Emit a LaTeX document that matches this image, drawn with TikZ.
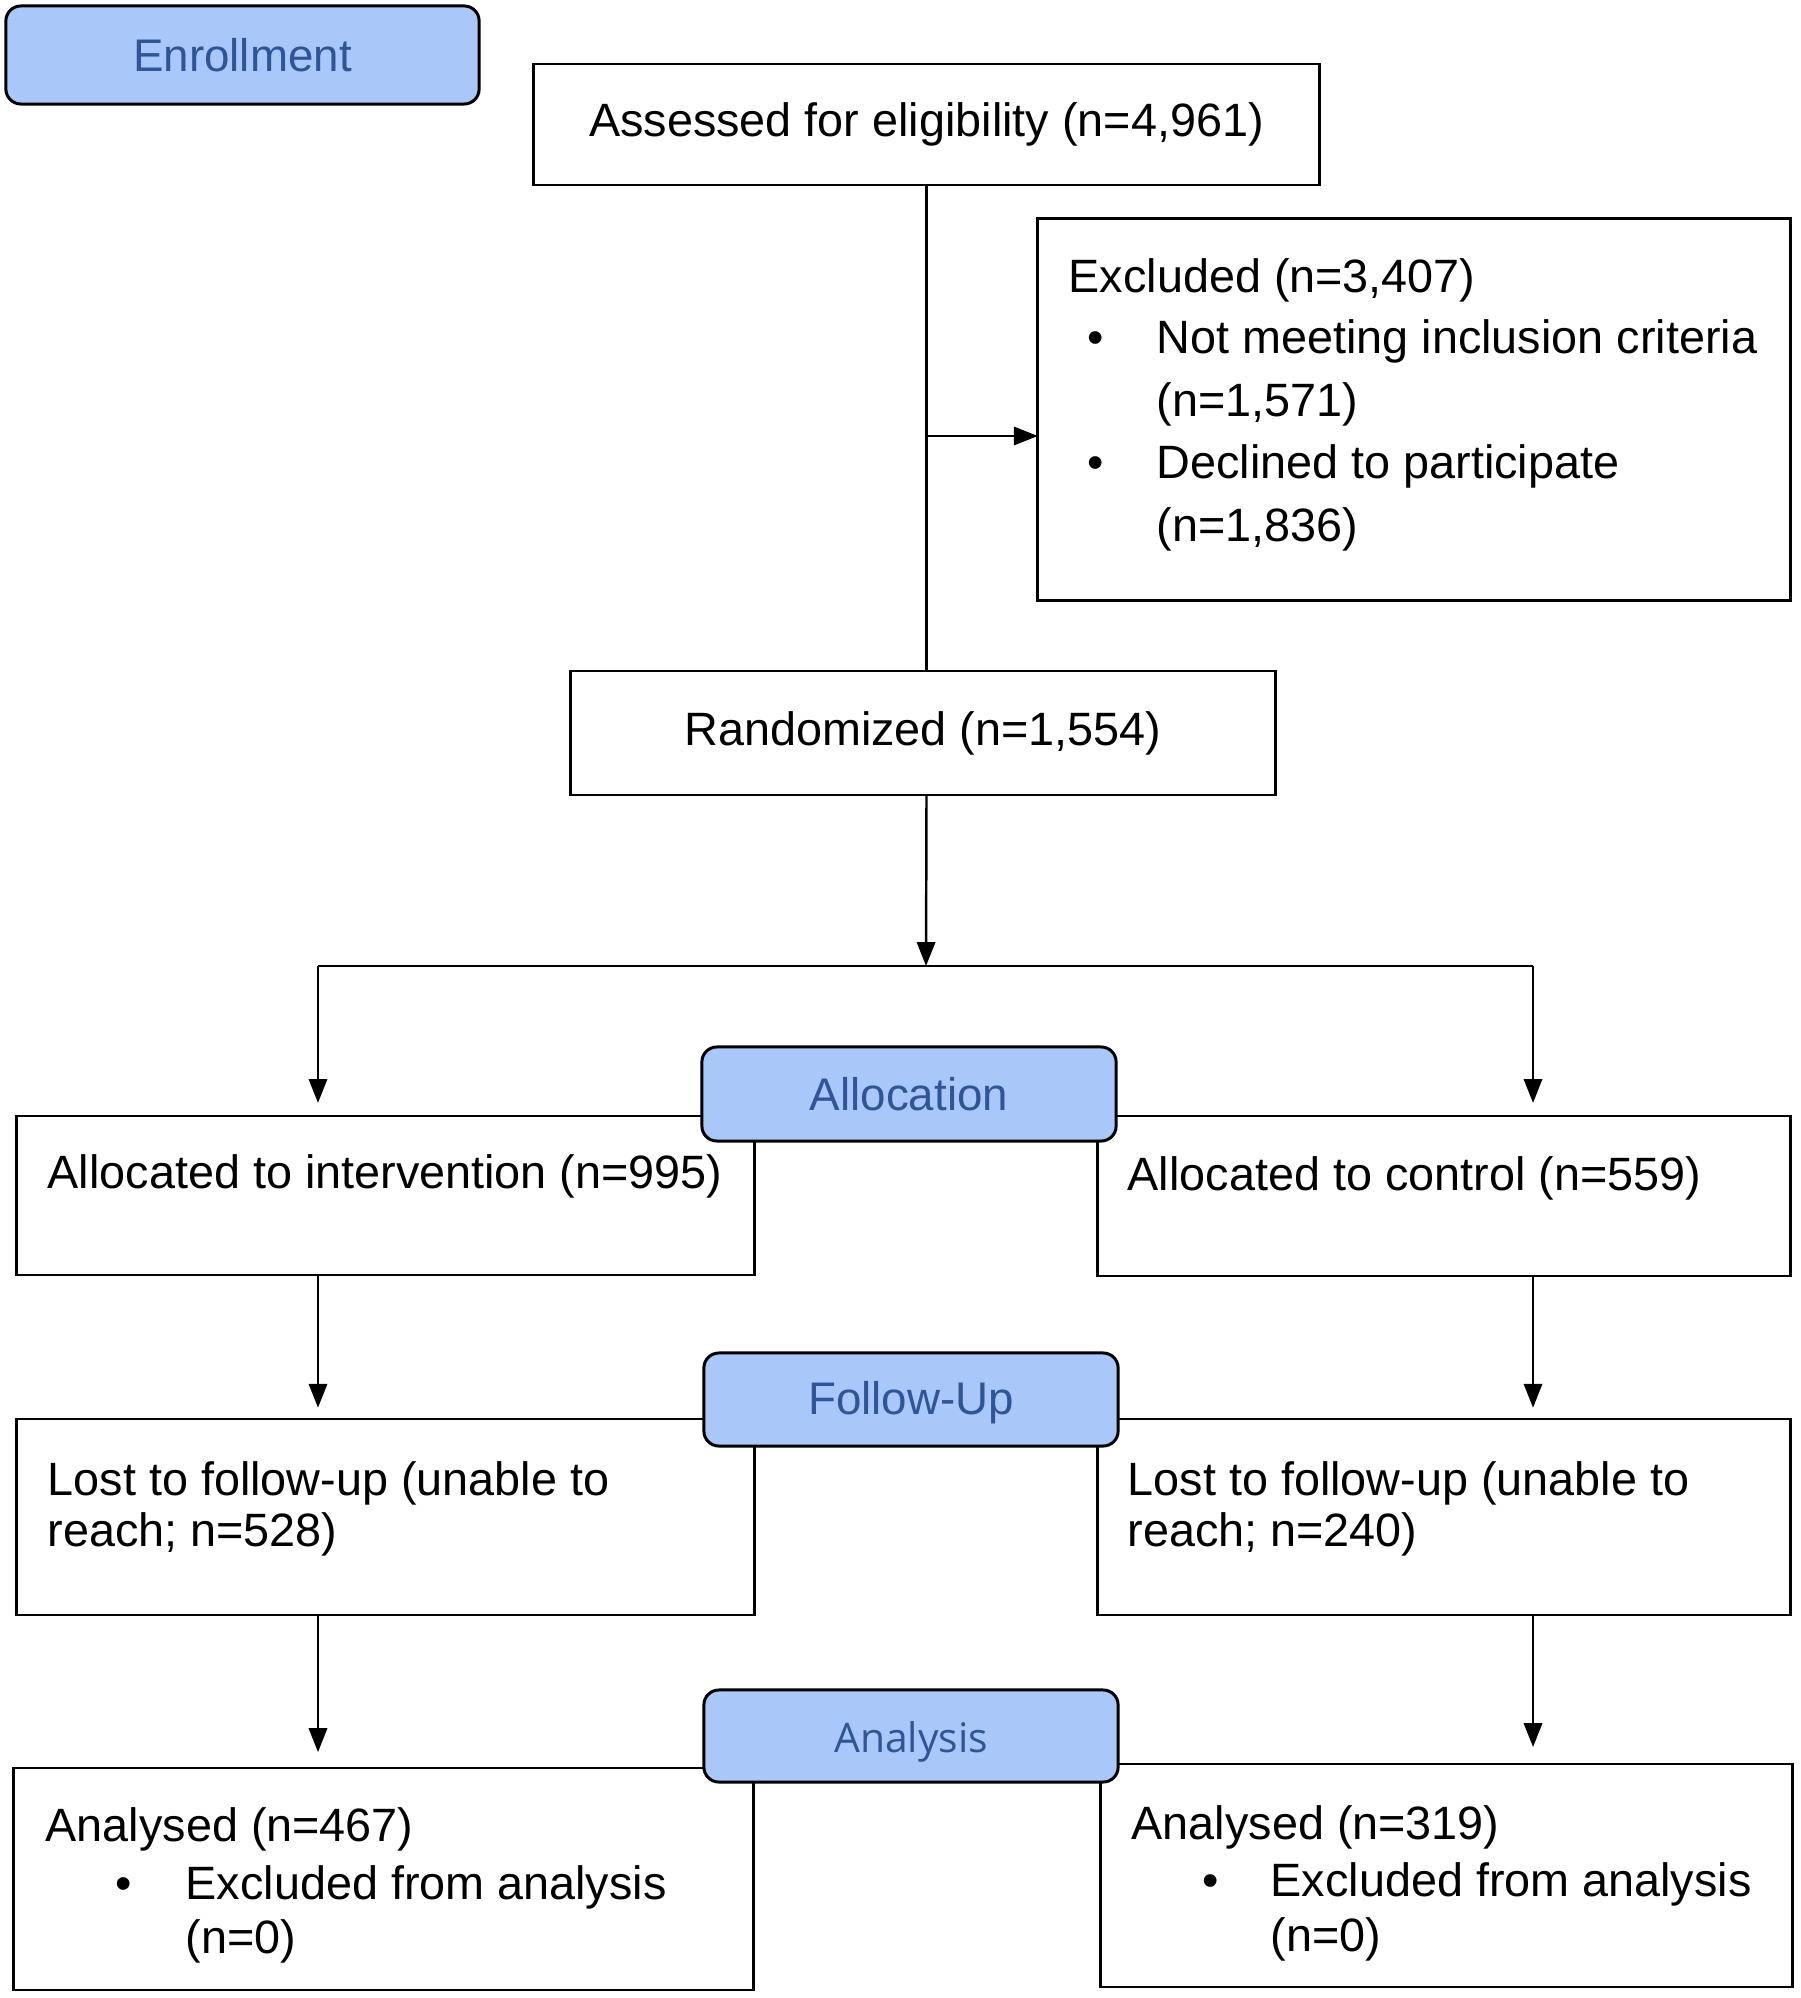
\documentclass[tikz,border=0pt]{standalone}
\usepackage{fontspec}
\setmainfont{Liberation Sans}
\newfontfamily\opensans{Open Sans}
\usetikzlibrary{arrows.meta}
\definecolor{hdrfill}{RGB}{170,199,250}
\definecolor{hdrtext}{RGB}{47,85,151}
\tikzset{
  box/.style={draw=black, line width=0.8pt, inner sep=0pt, outer sep=0pt, fill=white, font=\fontsize{13.3pt}{16pt}\selectfont},
  hdr/.style={draw=black, line width=0.85pt, rounded corners=0.15cm, fill=hdrfill, text=hdrtext, inner sep=0pt, outer sep=0pt, font=\fontsize{13pt}{15pt}\selectfont},
  txt/.style={anchor=mid west, inner sep=0pt, font=\fontsize{13.3pt}{16pt}\selectfont},
  bul/.style={anchor=mid, inner sep=0pt, font=\fontsize{13.3pt}{16pt}\selectfont},
  conn/.style={line width=0.7pt},
  arr/.style={conn, -{Triangle[length=6.8pt,width=5.2pt]}},
}
\begin{document}
\begin{tikzpicture}[x=0.01cm,y=-0.01cm]
\useasboundingbox (0,0) rectangle (1800,1998);
% boxes
\node[box, minimum width=7.85cm, minimum height=1.21cm] (assess) at (926.5,124.5) {Assessed for eligibility (n=4,961)};
\node[box, minimum width=7.52cm, minimum height=3.81cm] (excl) at (1414,409.5) {};
\node[box, minimum width=7.04cm, minimum height=1.24cm] (rand) at (923,733) {Randomized (n=1,554)};
\node[box, minimum width=7.37cm, minimum height=1.59cm] (allocL) at (385.5,1195.5) {};
\node[box, minimum width=6.92cm, minimum height=1.60cm] (allocR) at (1444,1196) {};
\node[box, minimum width=7.37cm, minimum height=1.96cm] (lostL) at (385.5,1517) {};
\node[box, minimum width=6.92cm, minimum height=1.96cm] (lostR) at (1444,1517) {};
\node[box, minimum width=7.39cm, minimum height=2.22cm] (anaL) at (383.5,1879) {};
\node[box, minimum width=6.91cm, minimum height=2.23cm] (anaR) at (1446.5,1875.5) {};
% headers
\node[hdr, minimum width=4.73cm, minimum height=0.98cm] (enroll) at (242.5,55) {Enrollment};
\node[hdr, minimum width=4.14cm, minimum height=0.94cm] (allochdr) at (909,1094) {Allocation};
\node[hdr, minimum width=4.14cm, minimum height=0.93cm, text height=11.5pt, text depth=2.7pt] (followhdr) at (911,1399.5) {Follow-Up};
\node[hdr, minimum width=4.14cm, minimum height=0.92cm, text height=12.3pt, text depth=2.8pt, font=\opensans\fontsize{11.6pt}{14pt}\selectfont] (anahdr) at (911,1736) {Analysis};
% texts
\node[txt] (t1) at (1068,283) {Excluded (n=3,407)};
\node[bul] (b1) at (1096,344) {\textbullet};
\node[txt] (t2) at (1156,344) {Not meeting inclusion criteria};
\node[txt] (t3) at (1156,407) {(n=1,571)};
\node[bul] (b2) at (1096,469) {\textbullet};
\node[txt] (t4) at (1156,469) {Declined to participate};
\node[txt] (t5) at (1156,532) {(n=1,836)};
\node[txt] (t6) at (47,1179) {Allocated to intervention (n=995)};
\node[txt] (t7) at (1127,1181) {Allocated to control (n=559)};
\node[txt] (t8) at (47,1486) {Lost to follow-up (unable to};
\node[txt] (t9) at (47,1537) {reach; n=528)};
\node[txt] (t10) at (1127,1486) {Lost to follow-up (unable to};
\node[txt] (t11) at (1127,1537) {reach; n=240)};
\node[txt] (t12) at (45,1832) {Analysed (n=467)};
\node[bul] (b3) at (124,1890) {\textbullet};
\node[txt] (t13) at (185,1890) {Excluded from analysis};
\node[txt] (t14) at (185,1944) {(n=0)};
\node[txt] (t15) at (1131,1830) {Analysed (n=319)};
\node[bul] (b4) at (1211,1887) {\textbullet};
\node[txt] (t16) at (1270,1887) {Excluded from analysis};
\node[txt] (t17) at (1270,1942) {(n=0)};
% connectors
\coordinate (exb) at (926,436);
\coordinate (split) at (926,966);
\coordinate (colL) at (318,966);
\coordinate (colR) at (1533,966);
\draw[conn] (assess.south) -- (assess.south |- rand.north);
\draw[arr] (exb) -- (exb -| excl.west);
\draw[arr] (assess.south |- rand.south) -- (split);
\draw[conn] (colL) -- (colR);
\draw[arr, shorten >=3.7pt] (colL) -- (colL |- allocL.north);
\draw[arr, shorten >=3.7pt] (colR) -- (colR |- allocR.north);
\draw[arr, shorten >=3.2pt] (colL |- allocL.south) -- (colL |- lostL.north);
\draw[arr, shorten >=3.2pt] (colR |- allocR.south) -- (colR |- lostR.north);
\draw[arr, shorten >=4.5pt] (colL |- lostL.south) -- (colL |- anaL.north);
\draw[arr, shorten >=4.8pt] (colR |- lostR.south) -- (colR |- anaR.north);
\end{tikzpicture}
\end{document}
